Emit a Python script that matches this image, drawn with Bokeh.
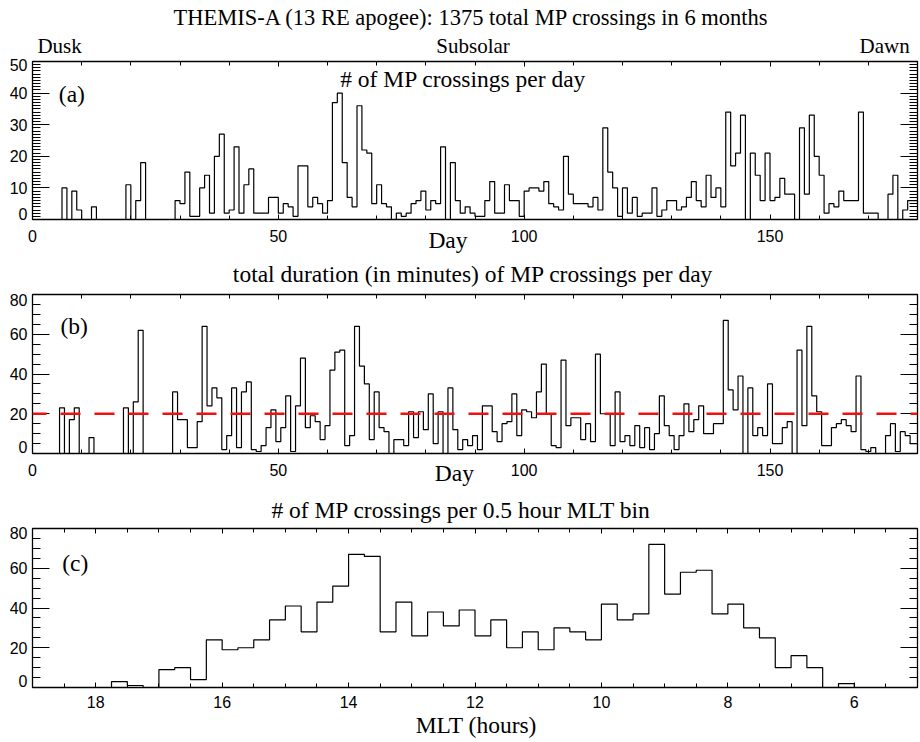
import numpy as np
from bokeh.plotting import figure
from bokeh.models import (LinearAxis, FixedTicker, Range1d, Label, Span,
                          CustomJSTickFormatter)
from bokeh.layouts import column
from bokeh.embed import file_html
from bokeh.resources import INLINE

# ---------------- data ----------------
DAY_MIN, DAY_MAX = 0, 180
crossings_per_day = [
    0, 0, 0, 0, 0, 0, 10, 0, 9, 3,
    0, 0, 4, 0, 0, 0, 0, 0, 0, 11,
    0, 6, 18, 0, 0, 0, 0, 0, 0, 6,
    5, 15, 1, 1, 10, 14, 2, 20, 27, 2,
    3, 23, 2, 11, 16, 2, 2, 2, 7, 7,
    2, 5, 4, 1, 17, 17, 4, 7, 5, 2,
    6, 37, 40, 18, 7, 4, 36, 22, 21, 5,
    11, 5, 4, 0, 2, 1, 2, 5, 6, 9,
    3, 6, 5, 23, 0, 18, 6, 2, 4, 2,
    1, 1, 6, 12, 2, 2, 11, 6, 6, 1,
    9, 10, 10, 9, 12, 5, 4, 3, 20, 8,
    5, 5, 5, 4, 7, 3, 29, 15, 10, 1,
    10, 2, 7, 1, 2, 2, 10, 1, 3, 6,
    6, 3, 4, 7, 12, 6, 4, 14, 7, 10,
    4, 34, 17, 21, 33, 0, 21, 14, 6, 21,
    6, 7, 13, 8, 8, 0, 29, 8, 33, 20,
    14, 2, 5, 4, 9, 6, 6, 6, 34, 2,
    2, 2, 0, 0, 8, 14, 0, 3, 6, 6,
]
duration_per_day = [
    0, 0, 0, 0, 0, 0, 23, 0, 17, 23,
    0, 0, 8, 0, 0, 0, 0, 0, 0, 23,
    0, 26, 62, 0, 0, 0, 0, 0, 0, 31,
    17, 17, 3, 3, 16, 64, 24, 33, 28, 2,
    9, 33, 3, 31, 36, 2, 1, 4, 13, 22,
    6, 13, 29, 1, 24, 48, 13, 19, 16, 7,
    14, 42, 51, 52, 4, 9, 64, 44, 35, 7,
    31, 13, 11, 0, 7, 7, 4, 21, 8, 21,
    12, 30, 5, 21, 0, 33, 12, 2, 7, 4,
    9, 2, 24, 24, 11, 6, 15, 16, 30, 9,
    22, 21, 18, 31, 45, 20, 4, 3, 47, 14,
    18, 18, 7, 15, 6, 50, 20, 20, 4, 31,
    6, 9, 4, 14, 3, 13, 2, 10, 29, 14,
    9, 2, 9, 25, 11, 17, 24, 10, 10, 15,
    15, 67, 32, 22, 39, 0, 33, 9, 13, 9,
    35, 5, 5, 13, 16, 0, 52, 14, 64, 29,
    21, 4, 4, 13, 15, 17, 14, 11, 39, 2,
    1, 3, 0, 0, 9, 15, 1, 11, 9, 5,
]
DURATION_THRESHOLD = 20

MLT_START, MLT_END, MLT_BIN = 19.0, 5.0, 0.25
crossings_per_mlt_bin = [
    0, 0, 0, 0, 0,
    3, 1, 0, 9, 10, 4, 24, 19, 20, 24, 34, 41, 28, 43, 51, 67, 66, 28, 43, 26,
    38, 31, 39, 26, 34, 20, 28, 19, 30, 28, 24, 42, 34, 37, 72, 47, 58, 59, 37,
    42, 30, 25, 10, 16, 10, 0, 2,
    0, 0, 0, 0,
]

day_ticks = [0, 50, 100, 150]
day_minor = list(range(0, 181, 10))
a_yticks = [0, 10, 20, 30, 40, 50]
a_yminor = list(range(0, 51, 1))
b_yticks = [0, 20, 40, 60, 80]
b_yminor = list(range(0, 81, 5))
c_xticks = [18, 16, 14, 12, 10, 8, 6]
c_xminor = [19 - 0.5 * i for i in range(29)]
c_yticks = [0, 20, 40, 60, 80]
c_yminor = list(range(0, 81, 5))

# ---------------- style / layout ----------------
SERIF = "Liberation Serif"
SANS = "Liberation Sans"
BIG = "23.5px"
TICKFS = "16px"
W = 920
BL, BR = 32, 3            # frame left / right borders (px)
FRAME_W = W - BL - BR


def make_fig(height, top, bottom, xr, yr):
    p = figure(width=W, height=height, x_range=xr, y_range=yr,
               output_backend="svg", toolbar_location=None,
               min_border_left=BL, min_border_right=BR,
               min_border_top=top, min_border_bottom=bottom,
               x_axis_type=None, y_axis_type=None)
    p.outline_line_color = "black"
    p.outline_line_width = 1.3
    p.background_fill_color = "white"
    p.border_fill_color = "white"
    return p


def make_strip(height, lo, hi):
    # full-width text strip sharing the panel's horizontal scale
    pxu = FRAME_W / (hi - lo)
    xr = Range1d(lo - BL / pxu, hi + BR / pxu)
    s = figure(width=W, height=height, x_range=xr, y_range=Range1d(height, 0),
               output_backend="svg", toolbar_location=None,
               min_border_left=0, min_border_right=0,
               min_border_top=0, min_border_bottom=0,
               x_axis_type=None, y_axis_type=None)
    s.frame_align = False
    s.outline_line_color = None
    s.background_fill_color = "white"
    s.border_fill_color = "white"
    return s


def tick_axis(ticks, minor, major_in, minor_in):
    ax = LinearAxis(ticker=FixedTicker(ticks=ticks, minor_ticks=minor))
    ax.axis_line_color = None
    ax.major_tick_in = major_in
    ax.major_tick_out = 0
    ax.minor_tick_in = minor_in
    ax.minor_tick_out = 0
    ax.major_tick_line_color = "black"
    ax.minor_tick_line_color = "black"
    ax.major_label_text_color = None
    ax.major_label_text_font_size = "1px"
    ax.major_label_standoff = 0
    return ax


def label_axis(ticks, step, px_per_unit, off_bottom, off_top):
    pos = list(ticks)
    pos[0] = ticks[0] + off_bottom / px_per_unit
    pos[-1] = ticks[-1] - off_top / px_per_unit
    ax = LinearAxis(ticker=FixedTicker(ticks=pos, minor_ticks=[]))
    ax.formatter = CustomJSTickFormatter(
        args=dict(step=step), code="return String(Math.round(tick / step) * step)")
    ax.axis_line_color = None
    ax.major_tick_line_color = None
    ax.minor_tick_line_color = None
    ax.major_tick_in = 0
    ax.major_tick_out = 0
    ax.major_label_text_font = SANS
    ax.major_label_text_font_size = TICKFS
    ax.major_label_text_color = "black"
    ax.major_label_standoff = 5
    return ax


def add_axes(p, xt, xm, yt, ym, ystep, ypx, offb, offt):
    p.add_layout(tick_axis(xt, xm, 5, 4), "below")
    p.add_layout(tick_axis(xt, xm, 5, 4), "above")
    p.add_layout(tick_axis(yt, ym, 17, 8), "left")
    p.add_layout(label_axis(yt, ystep, ypx, offb, offt), "left")
    p.add_layout(tick_axis(yt, ym, 17, 8), "right")


def txt(p, x, y, s, align="center", size=BIG, font=SERIF):
    p.add_layout(Label(x=x, y=y, text=s, text_font=font, text_font_size=size,
                       text_align=align, text_baseline="middle",
                       text_color="black"))


days = np.arange(len(crossings_per_day))

# ---------------- strip 0: main title + Dusk/Subsolar/Dawn ----------------
s0 = make_strip(58, DAY_MIN, DAY_MAX)
txt(s0, 89.3, 17, "THEMIS-A (13 RE apogee): 1375 total MP crossings in 6 months",
    size="22.5px")
txt(s0, 1.0, 45.5, "Dusk", "left", "21px")
txt(s0, 89.6, 45.5, "Subsolar", "center", "21px")
txt(s0, 178.4, 45.5, "Dawn", "right", "21px")

# ---------------- panel (a) ----------------
pa = make_fig(164, 3, 3, Range1d(DAY_MIN, DAY_MAX), Range1d(0, 50))
add_axes(pa, day_ticks, day_minor, a_yticks, a_yminor, 10, 3.16, 6, 3)
xa = np.append(days, DAY_MAX)
ya = np.append(crossings_per_day, crossings_per_day[-1])
pa.step(xa, ya, mode="after", line_color="black", line_width=1.2)
txt(pa, 87.6, 44.4, "# of MP crossings per day")
txt(pa, 5.35, 39.6, "(a)", "left")

# ---------------- strip 1 ----------------
s1 = make_strip(68, DAY_MIN, DAY_MAX)
for t in day_ticks:
    txt(s1, t, 13.5, str(t), "center", TICKFS, SANS)
txt(s1, 84.5, 17.5, "Day")
txt(s1, 89.6, 51, "total duration (in minutes) of MP crossings per day")

# ---------------- panel (b) ----------------
pb = make_fig(166, 4, 3, Range1d(DAY_MIN, DAY_MAX), Range1d(0, 80))
add_axes(pb, day_ticks, day_minor, b_yticks, b_yminor, 20, 1.9875, 6.6, 5.4)
xb = np.append(days - 0.5, DAY_MAX)
yb = np.append(duration_per_day, duration_per_day[-1])
pb.step(xb, yb, mode="after", line_color="black", line_width=1.2)
pb.add_layout(Span(location=DURATION_THRESHOLD, dimension="width",
                   line_color="#f01010", line_width=2.4, line_dash="20 14",
                   line_dash_offset=6))
txt(pb, 5.7, 63.9, "(b)", "left")

# ---------------- strip 2 ----------------
s2 = make_strip(68, DAY_MIN, DAY_MAX)
for t in day_ticks:
    txt(s2, t, 13, str(t), "center", TICKFS, SANS)
txt(s2, 85.8, 16.8, "Day")
txt(s2, 87.2, 53.5, "# of MP crossings per 0.5 hour MLT bin")

# ---------------- panel (c) ----------------
pc = make_fig(166, 4, 3, Range1d(MLT_START, MLT_END), Range1d(0, 80))
add_axes(pc, c_xticks, c_xminor, c_yticks, c_yminor, 20, 1.9875, 7, 4.6)
nb = len(crossings_per_mlt_bin)
xc = MLT_START - MLT_BIN * np.arange(nb + 1)
yc = np.append(crossings_per_mlt_bin, crossings_per_mlt_bin[-1])
pc.step(xc, yc, mode="after", line_color="black", line_width=1.2)
txt(pc, 18.53, 62.4, "(c)", "left")

# ---------------- strip 3 ----------------
s3 = make_strip(52, MLT_START, MLT_END)
for t in c_xticks:
    txt(s3, t, 11, str(t), "center", TICKFS, SANS)
txt(s3, 11.98, 34, "MLT (hours)")

layout = column(s0, pa, s1, pb, s2, pc, s3, spacing=0)
open("out.html", "w").write(file_html(layout, INLINE))
